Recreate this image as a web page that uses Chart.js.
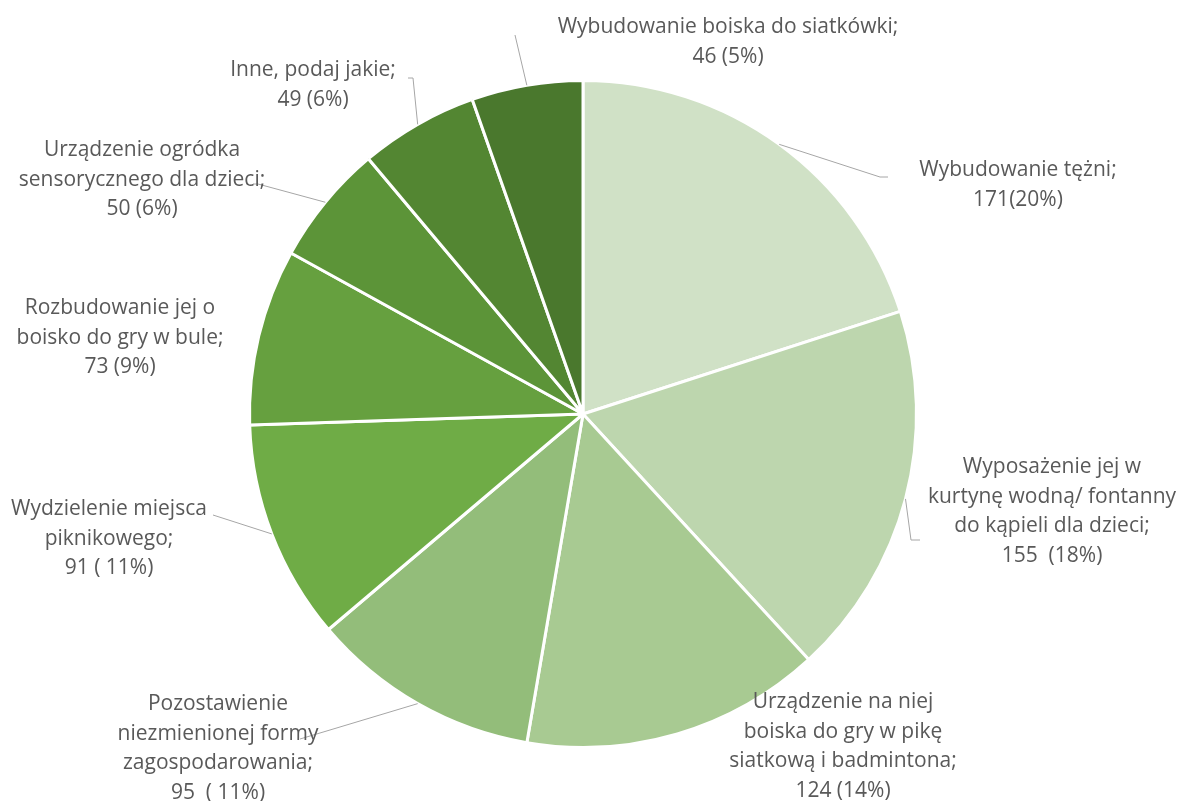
<!DOCTYPE html>
<html>
<head>
<meta charset="utf-8">
<script src="https://cdn.jsdelivr.net/npm/chart.js@4.4.1/dist/chart.umd.min.js"></script>
<style>
  html, body { margin: 0; padding: 0; background: #ffffff; }
  #wrap { width: 1179px; height: 801px; position: relative; }
</style>
</head>
<body>
<div id="wrap"><canvas id="c" width="1179" height="801"></canvas></div>
<script>
// ---- data ----
const categories = [
  "Wybudowanie tężni",
  "Wyposażenie jej w kurtynę wodną/ fontanny do kąpieli dla dzieci",
  "Urządzenie na niej boiska do gry w pikę siatkową i badmintona",
  "Pozostawienie niezmienionej formy zagospodarowania",
  "Wydzielenie miejsca piknikowego",
  "Rozbudowanie jej o boisko do gry w bule",
  "Urządzenie ogródka sensorycznego dla dzieci",
  "Inne, podaj jakie",
  "Wybudowanie boiska do siatkówki"
];
const values = [171, 155, 124, 95, 91, 73, 50, 49, 46];
const labelLines = [
  ["Wybudowanie tężni;", "171(20%)"],
  ["Wyposażenie jej w", "kurtynę wodną/ fontanny", "do kąpieli dla dzieci;", "155  (18%)"],
  ["Urządzenie na niej", "boiska do gry w pikę", "siatkową i badmintona;", "124 (14%)"],
  ["Pozostawienie", "niezmienionej formy", "zagospodarowania;", "95  ( 11%)"],
  ["Wydzielenie miejsca", "piknikowego;", "91 ( 11%)"],
  ["Rozbudowanie jej o", "boisko do gry w bule;", "73 (9%)"],
  ["Urządzenie ogródka", "sensorycznego dla dzieci;", "50 (6%)"],
  ["Inne, podaj jakie;", "49 (6%)"],
  ["Wybudowanie boiska do siatkówki;", "46 (5%)"]
];

// ---- style / layout ----
const colors = ["#D0E1C6", "#BDD6AE", "#A8CA92", "#93BD7A", "#6FAC46", "#66A03F", "#5C9438", "#538632", "#4A782D"];
// label block: center x, first line y
const labelPos = [
  [1018, 170], [1052, 467], [843, 702], [218, 704], [109, 509],
  [120, 308], [142, 150], [313, 70], [728, 27]
];
// leader line waypoints after the arc point (null = no leader)
const leaders = [
  [[880, 177], [888, 177]],
  [[911, 540], [920, 540]],
  null,
  [[300, 739]],
  [[213, 515]],
  null,
  [[258, 184], [253, 184]],
  [[413, 78], [408, 78]],
  [[515, 35]]
];
const LINE_H = 29.7;
const FONT = '21px "Open Sans", "Noto Sans", sans-serif';

const labelPlugin = {
  id: 'outLabels',
  afterDraw(chart) {
    const ctx = chart.ctx;
    const meta = chart.getDatasetMeta(0);
    ctx.save();
    meta.data.forEach((arc, i) => {
      const p = arc.getProps(['x', 'y', 'startAngle', 'endAngle', 'outerRadius'], true);
      const mid = (p.startAngle + p.endAngle) / 2;
      const ax = p.x + Math.cos(mid) * p.outerRadius;
      const ay = p.y + Math.sin(mid) * p.outerRadius;
      const pts = leaders[i];
      if (pts) {
        ctx.beginPath();
        ctx.moveTo(ax, ay);
        pts.forEach(q => ctx.lineTo(q[0], q[1]));
        ctx.strokeStyle = '#A6A6A6';
        ctx.lineWidth = 1;
        ctx.stroke();
      }
      ctx.fillStyle = '#595959';
      ctx.font = FONT;
      ctx.textAlign = 'center';
      ctx.textBaseline = 'middle';
      const [lx, ly] = labelPos[i];
      labelLines[i].forEach((t, k) => ctx.fillText(t, lx, ly + k * LINE_H));
    });
    ctx.restore();
  }
};

new Chart(document.getElementById('c'), {
  type: 'pie',
  data: {
    labels: categories,
    datasets: [{
      data: values,
      backgroundColor: colors,
      borderColor: '#ffffff',
      borderWidth: 3
    }]
  },
  options: {
    responsive: false,
    animation: false,
    layout: { padding: { top: 79, bottom: 52, left: 248, right: 261 } },
    plugins: { legend: { display: false }, tooltip: { enabled: false } }
  },
  plugins: [labelPlugin]
});
</script>
</body>
</html>
